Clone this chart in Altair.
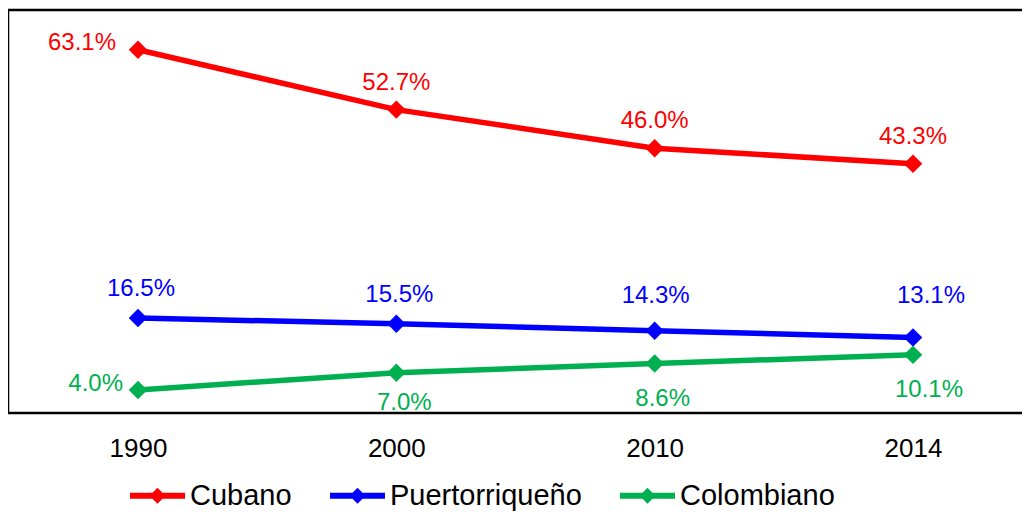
import altair as alt
import pandas as pd

years = ["1990", "2000", "2010", "2014"]
series = ["Cubano", "Puertorriqueño", "Colombiano"]
cubano = [63.1, 52.7, 46.0, 43.3]
puertorriqueno = [16.5, 15.5, 14.3, 13.1]
colombiano = [4.0, 7.0, 8.6, 10.1]
colors = ["#FF0000", "#0000FF", "#00B050"]

rows = []
for name, vals in zip(series, [cubano, puertorriqueno, colombiano]):
    for y, v in zip(years, vals):
        rows.append({"year": y, "series": name, "value": v})
df = pd.DataFrame(rows)

W, H = 1014, 403
FONT = "Liberation Sans"

xenc = alt.X("year:N", sort=years,
             scale=alt.Scale(type="point", domain=years, range=[130, 905], padding=0),
             axis=alt.Axis(title=None, labelAngle=0, ticks=False, domain=False, grid=False,
                           labelFontSize=26, labelFont=FONT, labelColor="black",
                           labelPadding=22))
yenc = alt.Y("value:Q", scale=alt.Scale(domain=[0, 70], nice=False, zero=True), axis=None)
color_scale = alt.Scale(domain=series, range=colors)

legend_path = "M-1,-0.11H1V0.11H-1Z M0,-0.29L0.29,0L0,0.29L-0.29,0Z"
legend = alt.Legend(title=None, orient="none", direction="horizontal",
                    legendX=122, legendY=458, columns=3,
                    symbolType=legend_path, symbolSize=3025,
                    symbolStrokeWidth=0, symbolOpacity=1,
                    labelFontSize=29, labelFont=FONT, labelColor="black",
                    labelLimit=0, labelOffset=5, columnPadding=38, padding=0)
color_enc = alt.Color("series:N", scale=color_scale, sort=series, legend=legend)

base = alt.Chart(df).encode(x=xenc, y=yenc)

lines = base.mark_line(strokeWidth=5.5).encode(color=color_enc, detail="series:N")
points = base.mark_point(shape="diamond", filled=True, size=340, opacity=1).encode(color=color_enc)

lab = base.transform_calculate(label="format(datum.value, '.1f') + '%'")

def text_layer(filt, **kw):
    return lab.transform_filter(filt).mark_text(fontSize=24, font=FONT, baseline="alphabetic", **kw).encode(
        text="label:N",
        color=color_enc,
    )

labels = [
    text_layer("datum.series == 'Cubano' && datum.year == '1990'", align="right", dx=-22, dy=0),
    text_layer("datum.series == 'Cubano' && datum.year != '1990'", align="center", dx=0, dy=-20),
    text_layer("datum.series == 'Puertorriqueño' && (datum.year == '1990' || datum.year == '2000')",
               align="center", dx=3, dy=-22),
    text_layer("datum.series == 'Puertorriqueño' && datum.year == '2010'", align="center", dx=1, dy=-28),
    text_layer("datum.series == 'Puertorriqueño' && datum.year == '2014'", align="center", dx=18, dy=-35),
    text_layer("datum.series == 'Colombiano' && datum.year == '1990'", align="right", dx=-15, dy=1),
    text_layer("datum.series == 'Colombiano' && datum.year == '2000'", align="center", dx=8, dy=37),
    text_layer("datum.series == 'Colombiano' && datum.year == '2010'", align="center", dx=8, dy=43),
    text_layer("datum.series == 'Colombiano' && datum.year == '2014'", align="center", dx=16, dy=42),
]

frame_df = pd.DataFrame({"a": [0]})
fb = alt.Chart(frame_df)
left_rule = fb.mark_rule(color="black", strokeWidth=2.5).encode(
    x=alt.value(0), y=alt.value(0), y2=alt.value(H))
top_rule = fb.mark_rule(color="black", strokeWidth=2.5).encode(
    y=alt.value(0), x=alt.value(0), x2=alt.value(W))
bottom_rule = fb.mark_rule(color="black", strokeWidth=2.5).encode(
    y=alt.value(H), x=alt.value(0), x2=alt.value(W))

chart = alt.layer(
    left_rule, top_rule, bottom_rule, lines, points, *labels,
).properties(
    width=W, height=H,
    autosize=alt.AutoSizeParams(type="none"),
    padding={"left": 0, "top": 2, "right": 0, "bottom": 100},
).configure_view(stroke=None).configure(background="white")

chart.save("out.html", embed_options={"renderer": "svg", "actions": False})
